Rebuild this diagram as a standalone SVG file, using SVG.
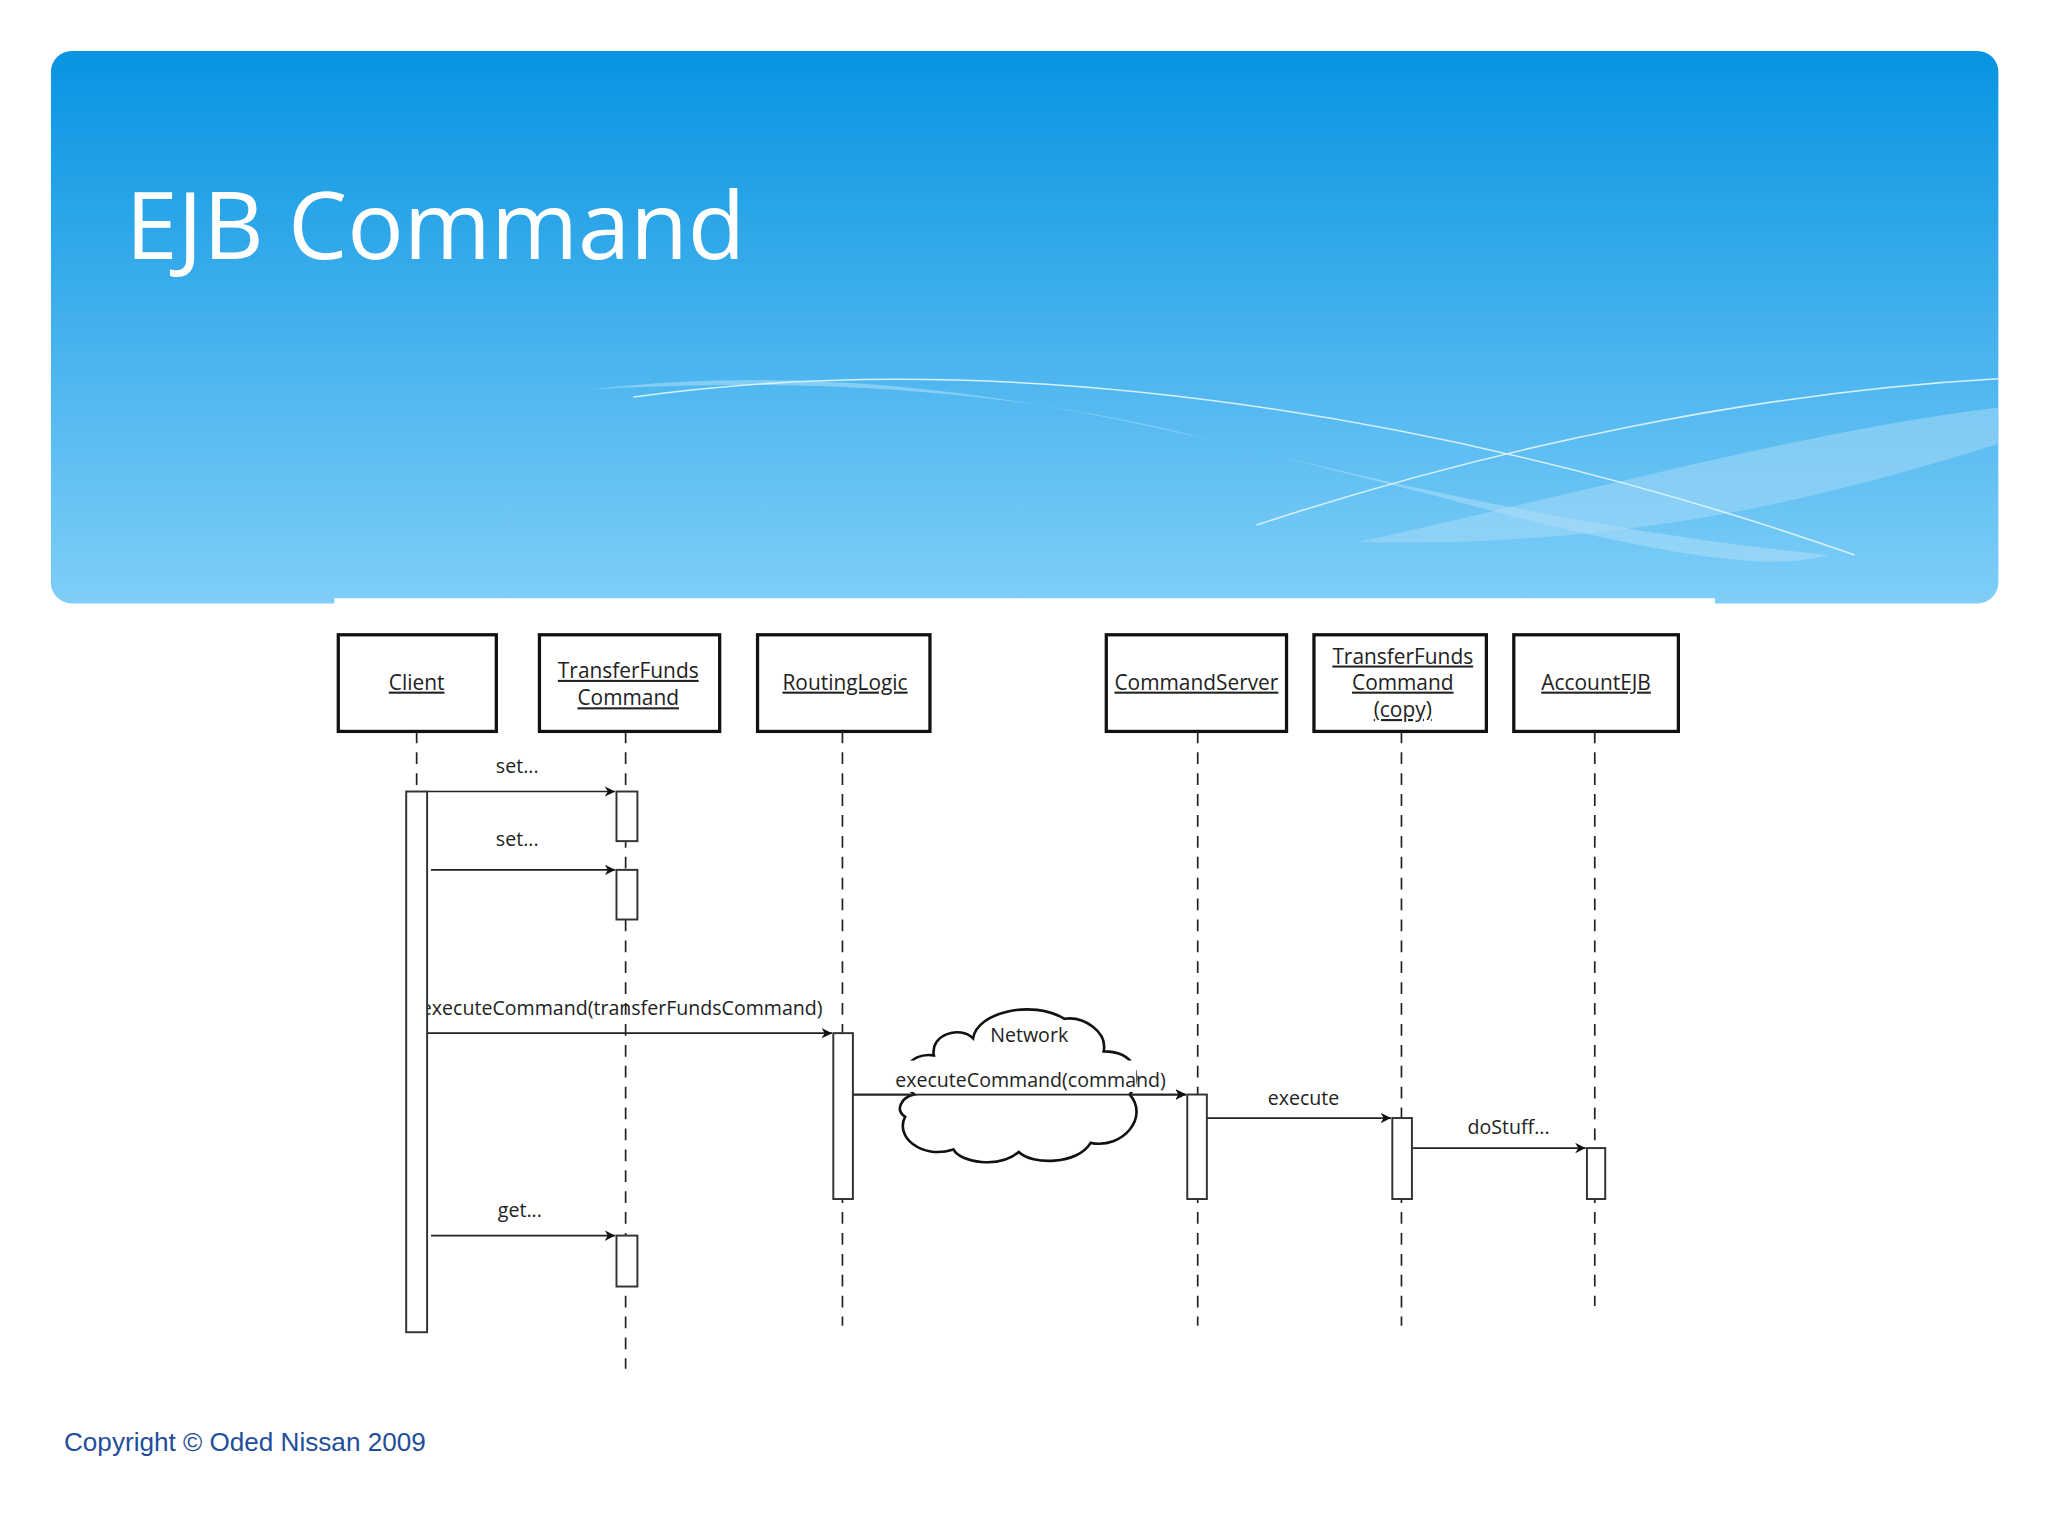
<svg xmlns="http://www.w3.org/2000/svg" width="2048" height="1536" viewBox="0 0 2048 1536">
<defs>
<linearGradient id="bg" x1="0" y1="0" x2="0" y2="1">
<stop offset="0" stop-color="#0794e2"/><stop offset="1" stop-color="#7fcef8"/>
</linearGradient>
<marker id="ah" viewBox="0 0 10 10" refX="10" refY="5" markerWidth="8" markerHeight="8" orient="auto" markerUnits="userSpaceOnUse"><path d="M0,0 L10,5 L0,10 L3,5 z" fill="#111"/></marker>
<style>
.box{fill:#fff;stroke:#111;stroke-width:2.5}
.lbl{font-family:"Open Sans","DejaVu Sans",sans-serif;font-size:16px;fill:#222;text-anchor:middle}
.life{stroke:#222;stroke-width:1.3;stroke-dasharray:9,7;fill:none}
.act{fill:#fff;stroke:#333;stroke-width:1.5}
.msg{stroke:#222;stroke-width:1.3;fill:none;marker-end:url(#ah)}
.ml{font-family:"Open Sans","DejaVu Sans",sans-serif;font-size:15px;fill:#222;text-anchor:middle}
</style>
</defs>
<rect width="2048" height="1536" fill="#fff"/>
<g transform="scale(1.30612)">
<rect x="39" y="39" width="1491" height="423" rx="16" fill="url(#bg)"/>
<path d="M452,298 C700,270 900,330 1100,380 C1250,420 1350,440 1400,425 C1250,410 1100,380 900,330 C750,295 600,290 452,298 z" fill="#a9dcf8" opacity="0.6"/>
<path d="M1040,415 C1200,380 1380,330 1530,312 L1530,340 C1400,380 1250,420 1040,415 z" fill="#a9dcf8" opacity="0.5"/>
<path d="M485,304 C800,260 1150,330 1420,425" stroke="#d6f0fd" stroke-width="1.2" fill="none"/>
<path d="M962,402 C1150,340 1350,300 1530,290" stroke="#d6f0fd" stroke-width="1.2" fill="none"/>
<rect x="256" y="458" width="1057" height="6" fill="#fff"/>
<text x="96" y="198" font-family="'Open Sans','DejaVu Sans',sans-serif" font-size="72" fill="#fff">EJB Command</text>

<g id="connectors">
<path class="life" d="M319,560 V606"/>
<path class="life" d="M479,560 V1048"/>
<path class="life" d="M645,560 V1015"/>
<path class="life" d="M917,560 V1015"/>
<path class="life" d="M1073,560 V1015"/>
<path class="life" d="M1221,560 V1000"/>
<path class="msg" d="M327,606 H471"/>
<path class="msg" d="M330,666 H471"/>
<path class="msg" d="M327,791 H637"/>
<path class="msg" d="M653,838 H908"/>
<path class="msg" d="M924,856 H1065"/>
<path class="msg" d="M1081,879 H1214"/>
<path class="msg" d="M330,946 H471"/>
<text class="ml" x="396" y="592">set...</text>
<text class="ml" x="396" y="648">set...</text>
<text class="ml" x="476" y="777" font-size="13.5">executeCommand(transferFundsCommand)</text>
<text class="ml" x="998" y="846">execute</text>
<text class="ml" x="1155" y="868">doStuff...</text>
<text class="ml" x="398" y="932">get...</text>
</g>

<g id="cloud">
<path d="M700,838 C685,825 695,805 715,808 C712,792 735,785 745,795 C748,775 790,765 815,780 C830,778 848,790 845,805 C870,805 875,825 865,838 C880,855 860,880 835,875 C825,892 790,892 780,882 C765,895 735,890 730,880 C705,888 685,870 693,855 C685,850 690,840 700,838 z" fill="#fff" stroke="#111" stroke-width="2"/>
<rect x="690" y="812" width="180" height="24" fill="#fff"/>
<text class="ml" x="788" y="798">Network</text>
<text class="ml" x="789" y="832" font-size="13.5">executeCommand(command)</text>
<path class="msg" d="M653,838 H908"/>
</g>

<g id="Client"><rect class="box" x="259" y="486" width="121" height="74"/><text class="lbl" x="319" y="528" text-decoration="underline">Client</text><rect class="act" x="311" y="606" width="16" height="414"/></g>
<g id="TransferFundsCommand"><rect class="box" x="413" y="486" width="138" height="74"/><text class="lbl" x="481" y="519" text-decoration="underline">TransferFunds</text><text class="lbl" x="481" y="540" text-decoration="underline">Command</text>
<rect class="act" x="472" y="606" width="16" height="38"/><rect class="act" x="472" y="666" width="16" height="38"/><rect class="act" x="472" y="946" width="16" height="39"/></g>
<g id="RoutingLogic"><rect class="box" x="580" y="486" width="132" height="74"/><text class="lbl" x="647" y="528" text-decoration="underline">RoutingLogic</text><rect class="act" x="638" y="791" width="15" height="127"/></g>
<g id="CommandServer"><rect class="box" x="847" y="486" width="138" height="74"/><text class="lbl" x="916" y="528" text-decoration="underline">CommandServer</text><rect class="act" x="909" y="838" width="15" height="80"/></g>
<g id="TransferFundsCommandCopy"><rect class="box" x="1006" y="486" width="132" height="74"/><text class="lbl" x="1074" y="508" text-decoration="underline">TransferFunds</text><text class="lbl" x="1074" y="528" text-decoration="underline">Command</text><text class="lbl" x="1074" y="549" text-decoration="underline">(copy)</text><rect class="act" x="1066" y="856" width="15" height="62"/></g>
<g id="AccountEJB"><rect class="box" x="1159" y="486" width="126" height="74"/><text class="lbl" x="1222" y="528" text-decoration="underline">AccountEJB</text><rect class="act" x="1215" y="879" width="14" height="39"/></g>

<text x="49" y="1111" font-family="'Liberation Sans',Arial,sans-serif" font-size="20" fill="#1f4e9a">Copyright © Oded Nissan 2009</text>
</g>
</svg>
